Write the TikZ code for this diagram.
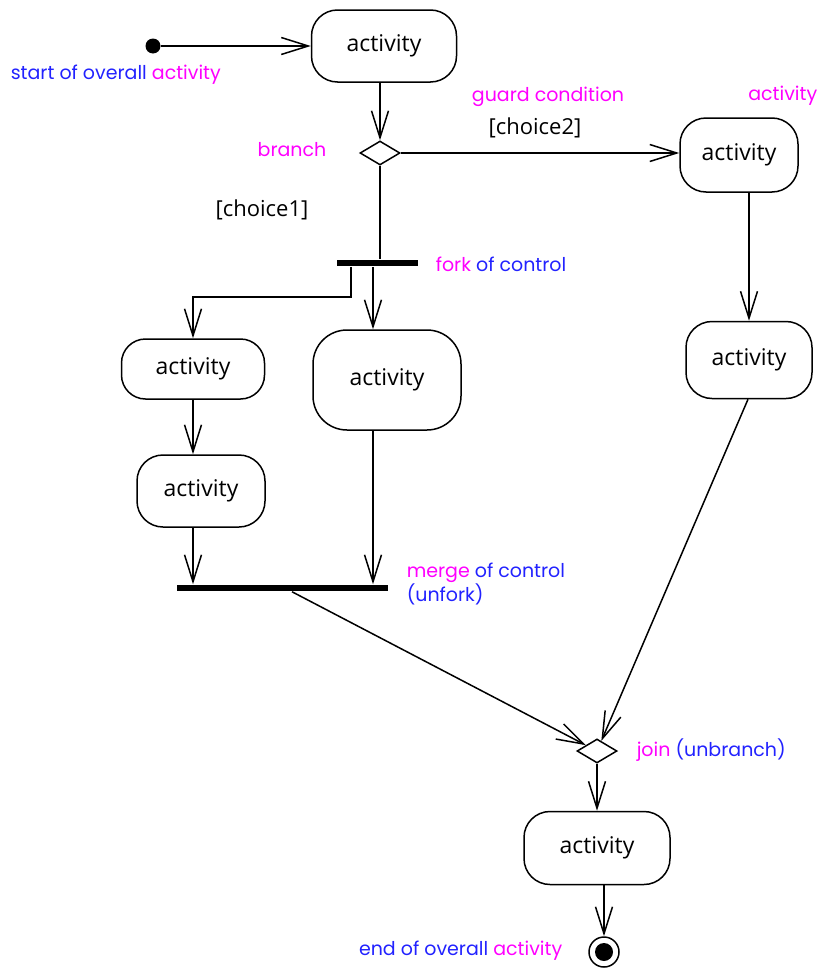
\documentclass[tikz,border=0pt]{standalone}
\usepackage{fontspec}
\setmainfont{Open Sans}
\newfontfamily\geofont{Poppins}
\usetikzlibrary{arrows.meta,calc,shapes.geometric}
\definecolor{lblblue}{RGB}{34,34,255}
\definecolor{lblmag}{RGB}{255,0,255}

\begin{document}
\begin{tikzpicture}[x=1pt, y=-1pt, line width=1.5pt,
    >={Straight Barb[length=27pt,width=17pt]},
    act/.style={draw, rounded corners=26pt, inner sep=0pt,
      font=\fontsize{23}{27}\selectfont},
    cond/.style={draw, diamond, inner sep=0pt, minimum width=40pt, minimum height=24pt},
    bar/.style={fill, inner sep=0pt, minimum height=6pt},
    guard/.style={font=\fontsize{22}{26}\selectfont},
    lbl/.style={font=\geofont\fontsize{19}{24}\selectfont, inner sep=0pt, align=left}]
  \useasboundingbox (0,0) rectangle (822,969);

  % inicio e fim
  \node[circle, fill, minimum size=15pt, inner sep=0pt] (start) at (153,46) {};
  \node[circle, draw, minimum size=30pt, inner sep=0pt] (end) at (604,952) {};
  \fill (end) circle (9pt);

  % atividades
  \node[act, minimum width=145pt, minimum height=72pt] (act1) at (384,46) {activity};
  \node[act, minimum width=118pt, minimum height=74pt] (act4) at (739,155) {activity};
  \node[act, minimum width=126pt, minimum height=77pt] (act5) at (749,360) {activity};
  \node[act, minimum width=143pt, minimum height=60pt, rounded corners=24pt] (act2) at (193,369) {activity};
  \node[act, minimum width=148pt, minimum height=100pt, rounded corners=34pt] (act3) at (387,380) {activity};
  \node[act, minimum width=128pt, minimum height=72pt] (act6) at (201,491) {activity};
  \node[act, minimum width=146pt, minimum height=73pt] (act7) at (597,848) {activity};

  % desvios e barras
  \node[cond] (branch) at (380,153) {};
  \node[cond] (join) at (597,751) {};
  \node[bar, minimum width=81pt] (fork) at (377,263) {};
  \node[bar, minimum width=211pt] (merge) at (282,588) {};

  % fluxos
  \draw[->] (start) -- (act1);
  \draw[->] (act1.south -| branch) -- (branch);
  \draw[->] (branch) -- (branch -| act4.west);
  \draw (branch) -- (branch |- fork.north);
  \draw[->] ($(fork.south west)+(15,0)$) -- ++(0,30) -| (act2);
  \draw[->] ($(fork.south)+(-4,0)$) coordinate (f2) -- (f2 |- act3.north);
  \draw[->] (act2) -- (act2 |- act6.north);
  \draw[->] (act6.south -| act2) -- (act2 |- merge.north);
  \draw[->] (f2 |- act3.south) -- (f2 |- merge.north);
  \draw[->] (act4.south -| act5) -- (act5);
  \draw[->] ($(merge.south)+(10,0)$) -- (join);
  \draw[->] (act5.south -| 748,0) -- (join);
  \draw[->] (join) -- (act7);
  \draw[->] (act7.south -| end) -- (end);

  % rotulos
  \node[guard] (g2) at (535,128) {[choice2]};
  \node[guard] (g1) at (262,210) {[choice1]};
  \node[lbl, anchor=west] (lstart) at (10,75) {\textcolor{lblblue}{start of overall} \textcolor{lblmag}{activity}};
  \node[lbl] (lbranch) at (292,150) {\textcolor{lblmag}{branch}};
  \node[lbl] (lguard) at (548,97) {\textcolor{lblmag}{guard condition}};
  \node[lbl, anchor=east] (lact) at (818,96) {\textcolor{lblmag}{activity}};
  \node[lbl, anchor=west] (lfork) at (435,264) {\textcolor{lblmag}{fork} \textcolor{lblblue}{of control}};
  \node[lbl, anchor=west] (lmerge) at (406,584) {\textcolor{lblmag}{merge} \textcolor{lblblue}{of control}\\\textcolor{lblblue}{(unfork)}};
  \node[lbl, anchor=west] (ljoin) at (636,750) {\textcolor{lblmag}{join} \textcolor{lblblue}{(unbranch)}};
  \node[lbl, anchor=east] (lend) at (563,951) {\textcolor{lblblue}{end of overall} \textcolor{lblmag}{activity}};
\end{tikzpicture}
\end{document}
